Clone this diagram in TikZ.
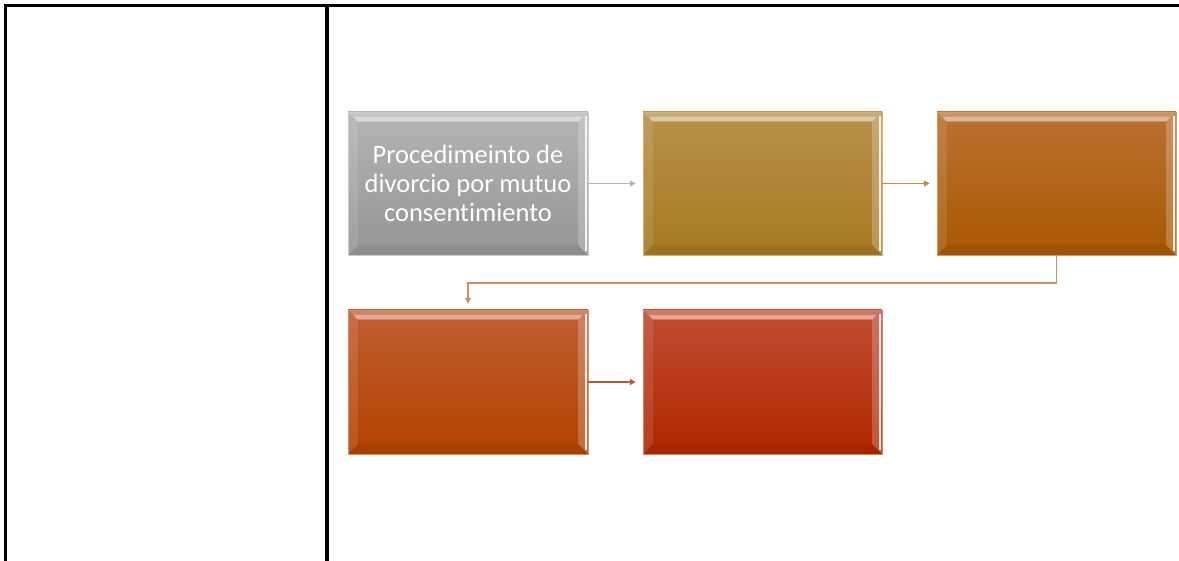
\documentclass[tikz,border=0pt]{standalone}
\usepackage{fontspec}
\setmainfont{Carlito}[Ligatures=NoCommon]
\usetikzlibrary{arrows.meta,calc}
\definecolor{gA}{HTML}{B4B4B4}\definecolor{gB}{HTML}{959595}
\definecolor{oA}{HTML}{B8914A}\definecolor{oB}{HTML}{A67A22}
\definecolor{rA}{HTML}{BA7232}\definecolor{rB}{HTML}{AA5800}
\definecolor{sA}{HTML}{C05E32}\definecolor{sB}{HTML}{B24200}
\definecolor{tA}{HTML}{C04C32}\definecolor{tB}{HTML}{B02800}
\definecolor{ar1}{HTML}{B4B4B4}\definecolor{ar2}{HTML}{B8923C}
\definecolor{ar3}{HTML}{D0905E}\definecolor{ar4}{HTML}{C25232}
\tikzset{
  tbl/.style={line width=3.5pt,black},
  bev/.style 2 args={rectangle, inner sep=0pt, minimum width=240pt, minimum height=143pt,
    top color=#1, bottom color=#2, draw=#1!70!white, line width=0.6pt,
    text=white, align=center, font=\fontsize{26.5}{29}\selectfont,
    path picture={
      \coordinate (nw) at (path picture bounding box.north west);
      \coordinate (ne) at (path picture bounding box.north east);
      \coordinate (sw) at (path picture bounding box.south west);
      \coordinate (se) at (path picture bounding box.south east);
      \fill[white,opacity=0.25] (nw) -- (ne) -- ($(ne)+(-10pt,-10pt)$) -- ($(nw)+(10pt,-10pt)$) -- cycle;
      \fill[white,opacity=0.35] ($(nw)+(6pt,-5pt)$) -- ($(ne)+(-6pt,-5pt)$) -- ($(ne)+(-9pt,-9pt)$) -- ($(nw)+(9pt,-9pt)$) -- cycle;
      \fill[white,opacity=0.10] (nw) -- ($(nw)+(10pt,-10pt)$) -- ($(sw)+(10pt,10pt)$) -- (sw) -- cycle;
      \fill[black,opacity=0.06] (sw) -- ($(sw)+(10pt,10pt)$) -- ($(se)+(-10pt,10pt)$) -- (se) -- cycle;
      \fill[white,opacity=0.22] (ne) -- (se) -- ($(se)+(-10pt,10pt)$) -- ($(ne)+(-10pt,-10pt)$) -- cycle;
      \fill[white,opacity=0.85] ($(ne)+(-3.5pt,-4pt)$) rectangle ($(se)+(-1.5pt,4pt)$);
    }},
  conn/.style={line width=1.5pt, -{Triangle[length=5.5pt,width=5.5pt]}, shorten >=7pt}
}
\begin{document}
\begin{tikzpicture}[x=1pt,y=-1pt]
\useasboundingbox (0,0) rectangle (1179,561);
\fill[white] (0,0) rectangle (1179,561);
% table lines
\draw[tbl] (4,5.5) -- (1179,5.5);
\draw[tbl] (5.5,4) -- (5.5,561);
\draw[tbl] (327,4) -- (327,561);
% boxes
\node[bev={gA}{gB}] (b1) at (468,183.5) {Procedimeinto de\\divorcio por mutuo\\consentimiento};
\node[bev={oA}{oB}, minimum width=239pt] (b2) at (762.5,183.5) {};
\node[bev={rA}{rB}, minimum width=239pt] (b3) at (1056.5,183.5) {};
\node[bev={sA}{sB}, minimum height=144pt] (b4) at (468,382) {};
\node[bev={tA}{tB}, minimum width=239pt, minimum height=144pt] (b5) at (762.5,382) {};
% connectors
\draw[conn, ar1] (b1.east) -- (b2.west);
\draw[conn, ar2] (b2.east) -- (b3.west);
\draw[conn, ar3, shorten >=6pt] (b3.south) -- ++(0,27.5) -| (b4.north);
\draw[conn, ar4] (b4.east) -- (b5.west);
\end{tikzpicture}
\end{document}
